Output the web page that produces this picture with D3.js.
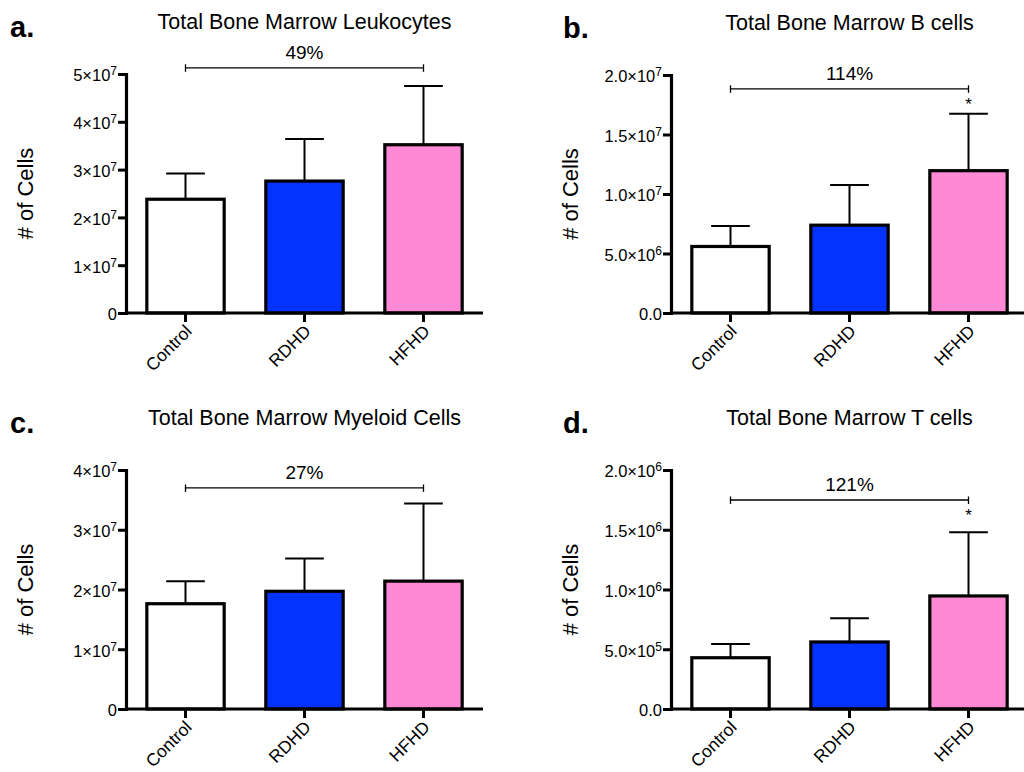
<!DOCTYPE html>
<html>
<head>
<meta charset="utf-8">
<script src="https://cdn.jsdelivr.net/npm/d3@7"></script>
<style>
  body { margin: 0; background: #fff; }
  svg { display: block; }
  text { font-family: "Liberation Sans", Arial, Helvetica, sans-serif; fill: #000; }
</style>
</head>
<body>
<div id="chart"></div>
<script>
// groups shared by all four panels
let groups = ["Control", "RDHD", "HFHD"];
let groupColors = ["#ffffff", "#0433ff", "#ff89d5"];

let titles = ["Total Bone Marrow Leukocytes", "Total Bone Marrow B cells",
              "Total Bone Marrow Myeloid Cells", "Total Bone Marrow T cells"];
let letters = ["a.", "b.", "c.", "d."];

// means and upper error (SD) per panel
let leukMean = [2.38e7, 2.76e7, 3.52e7];
let leukErr  = [0.54e7, 0.88e7, 1.23e7];
let bMean    = [5.59e6, 7.38e6, 1.196e7];
let bErr     = [1.73e6, 3.38e6, 4.78e6];
let myeMean  = [1.762e7, 1.97e7, 2.14e7];
let myeErr   = [0.378e7, 0.55e7, 1.30e7];
let tMean    = [4.29e5, 5.61e5, 9.46e5];
let tErr     = [1.15e5, 1.98e5, 5.33e5];

// y axis ticks ("^" marks the exponent)
let leukTicks = [0, 1e7, 2e7, 3e7, 4e7, 5e7];
let leukTickLabels = ["0", "1×10^7", "2×10^7", "3×10^7", "4×10^7", "5×10^7"];
let bTicks = [0, 5e6, 1e7, 1.5e7, 2e7];
let bTickLabels = ["0.0", "5.0×10^6", "1.0×10^7", "1.5×10^7", "2.0×10^7"];
let myeTicks = [0, 1e7, 2e7, 3e7, 4e7];
let myeTickLabels = ["0", "1×10^7", "2×10^7", "3×10^7", "4×10^7"];
let tTicks = [0, 5e5, 1e6, 1.5e6, 2e6];
let tTickLabels = ["0.0", "5.0×10^5", "1.0×10^6", "1.5×10^6", "2.0×10^6"];

// Control vs HFHD comparison
let pctLabels = ["49%", "114%", "27%", "121%"];
let bracketLevel = [5.13e7, 1.884e7, 3.70e7, 1.749e6];
let starred = [false, true, false, true];

let yLabel = "# of Cells";

// panel placement (axis origin + top)
let layout = [
  {x0: 126, ytop: 74,  y0: 313, lx: 10},
  {x0: 671, ytop: 75,  y0: 313, lx: 563},
  {x0: 126, ytop: 470, y0: 709, lx: 10},
  {x0: 671, ytop: 470, y0: 709, lx: 563}
];

let panels = [
  {mean: leukMean, err: leukErr, ticks: leukTicks, labels: leukTickLabels},
  {mean: bMean, err: bErr, ticks: bTicks, labels: bTickLabels},
  {mean: myeMean, err: myeErr, ticks: myeTicks, labels: myeTickLabels},
  {mean: tMean, err: tErr, ticks: tTicks, labels: tTickLabels}
];

let svg = d3.select("#chart").append("svg")
    .attr("width", 1024)
    .attr("height", 772);

let plotWidth = 357;

panels.forEach(function(p, i) {
  let L = layout[i];
  let g = svg.append("g").attr("transform", `translate(${L.x0}, 0)`);

  let x = d3.scaleBand()
      .domain(groups)
      .range([0, plotWidth])
      .paddingInner(0.35)
      .paddingOuter(0.175);

  let y = d3.scaleLinear()
      .domain([0, d3.max(p.ticks)])
      .range([L.y0, L.ytop]);

  let rows = groups.map(function(name, k) {
    return {name: name, mean: p.mean[k], err: p.err[k], color: groupColors[k]};
  });

  // error whiskers (upper only), drawn under the bars
  let whisk = g.append("g").attr("stroke", "#000").attr("stroke-width", 2);
  whisk.selectAll("line.v").data(rows).enter().append("line")
      .attr("x1", d => x(d.name) + x.bandwidth() / 2)
      .attr("x2", d => x(d.name) + x.bandwidth() / 2)
      .attr("y1", d => y(d.mean))
      .attr("y2", d => y(d.mean + d.err));
  whisk.selectAll("line.cap").data(rows).enter().append("line")
      .attr("x1", d => x(d.name) + x.bandwidth() / 2 - x.bandwidth() / 4)
      .attr("x2", d => x(d.name) + x.bandwidth() / 2 + x.bandwidth() / 4)
      .attr("y1", d => y(d.mean + d.err))
      .attr("y2", d => y(d.mean + d.err));

  // bars
  g.selectAll("rect").data(rows).enter().append("rect")
      .attr("x", d => x(d.name))
      .attr("y", d => y(d.mean))
      .attr("width", x.bandwidth())
      .attr("height", d => y(0) - y(d.mean))
      .attr("fill", d => d.color)
      .attr("stroke", "#000")
      .attr("stroke-width", 3.2);

  // y axis
  let yAxis = g.append("g")
      .call(d3.axisLeft(y).tickValues(p.ticks).tickSize(8).tickSizeOuter(0).tickPadding(1));
  yAxis.select(".domain").attr("stroke-width", 3.2).attr("stroke-linecap", "square");
  yAxis.selectAll(".tick line").attr("stroke-width", 3);
  yAxis.selectAll(".tick text")
      .attr("font-size", null)
      .style("font-size", "16.5px")
      .attr("dy", "0.42em")
      .each(function(d, k) {
        let parts = p.labels[k].split("^");
        let t = d3.select(this).text("");
        t.append("tspan").text(parts[0]);
        if (parts[1]) {
          t.append("tspan").attr("dy", "-0.5em").style("font-size", "12px").text(parts[1]);
        }
      });

  // x axis
  let xAxis = g.append("g")
      .attr("transform", `translate(0, ${L.y0})`)
      .call(d3.axisBottom(x).tickSize(9).tickSizeOuter(0));
  xAxis.select(".domain").attr("stroke-width", 3.2).attr("d", `M0,0H${plotWidth}`);
  xAxis.selectAll(".tick line").attr("stroke-width", 3);
  xAxis.selectAll(".tick text")
      .style("font-size", "17.5px")
      .style("text-anchor", "end")
      .attr("x", 0).attr("y", 0).attr("dy", "0.35em")
      .attr("transform", "translate(3, 15) rotate(-45)");

  // y label
  svg.append("text")
      .attr("transform", `translate(${L.x0 - 93}, ${(L.y0 + L.ytop) / 2}) rotate(-90)`)
      .style("text-anchor", "middle")
      .style("font-size", "22px")
      .text(yLabel);

  // title and panel letter
  svg.append("text")
      .attr("x", L.x0 + x("RDHD") + x.bandwidth() / 2)
      .attr("y", L.ytop - 45)
      .style("text-anchor", "middle")
      .style("font-size", "21.5px")
      .text(titles[i]);
  svg.append("text")
      .attr("x", L.lx)
      .attr("y", L.ytop - 37.5)
      .style("font-size", "29px")
      .style("font-weight", "bold")
      .text(letters[i]);

  // comparison bracket
  let bx1 = x("Control") + x.bandwidth() / 2;
  let bx2 = x("HFHD") + x.bandwidth() / 2;
  let by = y(bracketLevel[i]);
  let br = g.append("g").attr("stroke", "#000").attr("stroke-width", 1.3);
  br.append("line").attr("x1", bx1).attr("x2", bx2).attr("y1", by).attr("y2", by);
  br.append("line").attr("x1", bx1).attr("x2", bx1).attr("y1", by - 3.5).attr("y2", by + 4);
  br.append("line").attr("x1", bx2).attr("x2", bx2).attr("y1", by - 3.5).attr("y2", by + 4);
  g.append("text")
      .attr("x", (bx1 + bx2) / 2)
      .attr("y", by - 8.5)
      .style("text-anchor", "middle")
      .style("font-size", "19px")
      .text(pctLabels[i]);
  if (starred[i]) {
    g.append("text")
        .attr("x", bx2)
        .attr("y", by + 21)
        .style("text-anchor", "middle")
        .style("font-size", "17px")
        .text("*");
  }
});
</script>
</body>
</html>
